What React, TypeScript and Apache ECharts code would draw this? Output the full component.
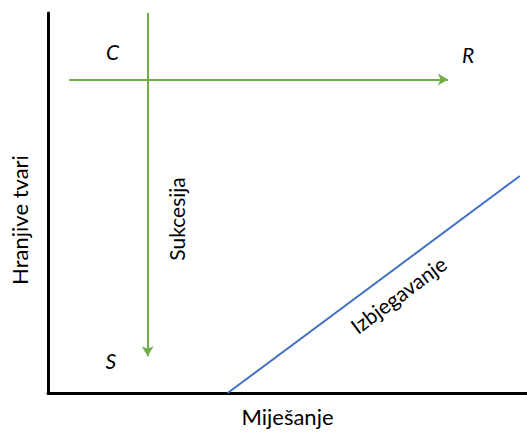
import React, { useEffect, useRef } from "react";
import * as echarts from "echarts";

const xAxisName = "Miješanje";
const yAxisName = "Hranjive tvari";

// arrows / lines in data space (0..100)
const successionArrow = [[20.8, 100], [20.8, 9.7]];
const horizontalArrow = [[4.4, 82.5], [83.5, 82.5]];
const avoidanceLine = [[37.5, 0], [98.5, 57.1]];

// corner labels
const cornerLabels = ["C", "R", "S"];
const cornerPositions = [[13.5, 89.8], [87.7, 89.0], [13.1, 8.6]];

const succLabel = "Sukcesija";
const succPos = [26.9, 45.8];
const avoidLabel = "Izbjegavanje";
const avoidPos = [73.1, 25.9];

const FONT = "Lato, 'Noto Sans', sans-serif";

export default function App() {
  const ref = useRef<HTMLDivElement>(null);
  useEffect(() => {
    if (!ref.current) return;
    const chart = echarts.init(ref.current, null, { renderer: "svg" });
    const angle = (Math.atan2(218, 293) * 180) / Math.PI;
    const hidden = { color: "rgba(0,0,0,0)" };
    const labelBase = {
      show: true,
      position: "inside",
      formatter: (p: any) => p.name,
      fontSize: 21,
      color: "#000",
      fontFamily: FONT,
      textBorderWidth: 0,
      textBorderColor: "transparent",
      opacity: 1,
    };
    chart.setOption({
      animation: false,
      grid: { left: 47, right: 0, top: 13, bottom: 37 },
      xAxis: {
        type: "value",
        min: 0,
        max: 100,
        name: xAxisName,
        nameLocation: "middle",
        nameGap: 12,
        nameTextStyle: { fontSize: 22, color: "#000", fontFamily: FONT, verticalAlign: "top" },
        axisLine: { show: true, lineStyle: { color: "#000", width: 3 } },
        axisTick: { show: false },
        axisLabel: { show: false },
        splitLine: { show: false },
      },
      yAxis: {
        type: "value",
        min: 0,
        max: 100,
        name: yAxisName,
        nameLocation: "middle",
        nameRotate: 90,
        nameGap: 18,
        nameTextStyle: { fontSize: 22, color: "#000", fontFamily: FONT, padding: [0, 34, 0, 0] },
        axisLine: { show: true, lineStyle: { color: "#000", width: 3 } },
        axisTick: { show: false },
        axisLabel: { show: false },
        splitLine: { show: false },
      },
      series: [
        {
          type: "line",
          data: [],
          silent: true,
          markLine: {
            silent: true,
            animation: false,
            label: { show: false },
            symbol: ["none", "arrow"],
            symbolSize: [9, 10],
            lineStyle: { color: "#70AD47", width: 2, type: "solid" },
            data: [
              [
                { coord: successionArrow[0] },
                { coord: successionArrow[1] },
              ],
              [
                { coord: horizontalArrow[0] },
                { coord: horizontalArrow[1] },
              ],
            ],
          },
        },
        {
          type: "line",
          data: avoidanceLine,
          showSymbol: false,
          silent: true,
          lineStyle: { color: "#4472C4", width: 2 },
        },
        {
          type: "scatter",
          silent: true,
          symbolSize: 1,
          itemStyle: hidden,
          data: cornerLabels.map((t, i) => ({ value: cornerPositions[i], name: t })),
          label: { ...labelBase, fontStyle: "italic" },
        },
        {
          type: "scatter",
          silent: true,
          symbolSize: 1,
          itemStyle: hidden,
          data: [{ value: succPos, name: succLabel }],
          label: { ...labelBase, rotate: 90 },
        },
        {
          type: "scatter",
          silent: true,
          symbolSize: 1,
          itemStyle: hidden,
          data: [{ value: avoidPos, name: avoidLabel }],
          label: { ...labelBase, rotate: angle },
        },
      ],
    });
    return () => chart.dispose();
  }, []);
  return (
    <div
      ref={ref}
      style={{ position: "absolute", left: 0, top: 0, width: 527, height: 432 }}
    />
  );
}
